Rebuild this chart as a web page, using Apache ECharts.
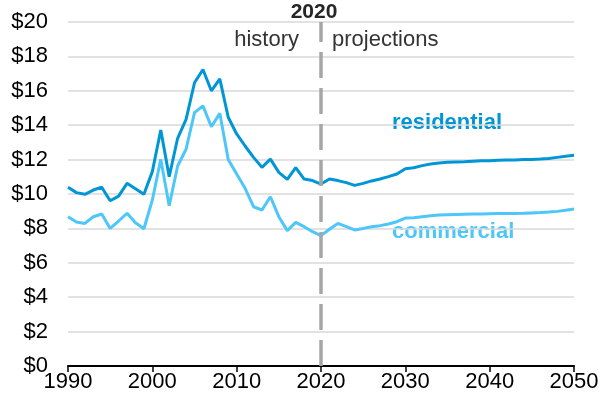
<!DOCTYPE html>
<html>
<head>
<meta charset="utf-8">
<script src="https://cdn.jsdelivr.net/npm/echarts@6/dist/echarts.min.js"></script>
<style>
  html, body { margin: 0; padding: 0; background: #fff; }
  #chart { width: 608px; height: 402px; }
</style>
</head>
<body>
<div id="chart"></div>
<script>
// years 1990..2050, one point per year
const years = Array.from({ length: 61 }, (_, i) => 1990 + i);

// residential price
const residential = [
  10.39, 10.08, 9.98, 10.23, 10.39, 9.61, 9.88, 10.62, 10.31, 9.98,
  11.30, 13.72, 11.01, 13.24, 14.34, 16.47, 17.24, 16.00, 16.69, 14.46,
  13.49, 12.79, 12.13, 11.55, 12.03, 11.26, 10.85, 11.53, 10.87, 10.78,
  10.58, 10.87, 10.78, 10.66, 10.50, 10.62, 10.76, 10.87, 11.01, 11.16,
  11.47, 11.53, 11.65, 11.74, 11.80, 11.84, 11.86, 11.88, 11.91, 11.93,
  11.94, 11.96, 11.97, 11.98, 12.00, 12.01, 12.03, 12.07, 12.13, 12.19,
  12.25
];

// commercial price
const commercial = [
  8.68, 8.37, 8.29, 8.68, 8.84, 8.00, 8.43, 8.88, 8.33, 7.98,
  9.65, 12.01, 9.32, 11.63, 12.60, 14.73, 15.12, 13.91, 14.69, 12.01,
  11.16, 10.33, 9.26, 9.07, 9.84, 8.68, 7.87, 8.35, 8.10, 7.81,
  7.58, 7.95, 8.29, 8.10, 7.91, 8.00, 8.10, 8.16, 8.26, 8.39,
  8.60, 8.62, 8.68, 8.74, 8.78, 8.80, 8.81, 8.82, 8.83, 8.84,
  8.85, 8.86, 8.86, 8.87, 8.88, 8.90, 8.92, 8.95, 8.99, 9.05,
  9.13
];

const splitYear = 2020;
const font = 'Liberation Sans, Arial, sans-serif';

const myChart = echarts.init(document.getElementById('chart'));

const option = {
  animation: false,
  grid: { left: 68, right: 34, top: 22, bottom: 36 },
  xAxis: {
    type: 'value',
    min: 1990,
    max: 2050,
    interval: 10,
    axisLine: { lineStyle: { color: '#000', width: 2 } },
    axisTick: { show: true, length: 6, lineStyle: { color: '#000', width: 1.5 } },
    axisLabel: { color: '#000', fontSize: 22, fontFamily: font, margin: 5, formatter: v => String(v) },
    splitLine: { show: false }
  },
  yAxis: {
    type: 'value',
    min: 0,
    max: 20,
    interval: 2,
    axisLine: { show: false },
    axisTick: { show: false },
    axisLabel: { color: '#000', fontSize: 22, fontFamily: font, margin: 20, formatter: '${value}' },
    splitLine: { lineStyle: { color: '#d9d9d9', width: 1.5 } }
  },
  series: [
    {
      name: 'residential',
      type: 'line',
      data: years.map((y, i) => [y, residential[i]]),
      symbol: 'none',
      lineStyle: { color: '#0096d6', width: 3 },
      z: 3,
      markLine: {
        silent: true,
        symbol: 'none',
        lineStyle: { color: '#a6a6a6', width: 3.5, type: [26, 10] },
        label: { show: false },
        data: [{ xAxis: splitYear }]
      }
    },
    {
      name: 'commercial',
      type: 'line',
      data: years.map((y, i) => [y, commercial[i]]),
      symbol: 'none',
      lineStyle: { color: '#4dc6f9', width: 3 },
      z: 2
    }
  ],
  graphic: [
    { type: 'text', style: { x: 314, y: 12, text: '2020', align: 'center', verticalAlign: 'middle', font: 'bold 21px ' + font, fill: '#262626' } },
    { type: 'text', style: { x: 299, y: 40, text: 'history', align: 'right', verticalAlign: 'middle', font: '22px ' + font, fill: '#333' } },
    { type: 'text', style: { x: 332, y: 40, text: 'projections', align: 'left', verticalAlign: 'middle', font: '22px ' + font, fill: '#333' } },
    { type: 'text', style: { x: 392, y: 123, text: 'residential', align: 'left', verticalAlign: 'middle', font: 'bold 22px ' + font, fill: '#0096d6' } },
    { type: 'text', style: { x: 392, y: 232, text: 'commercial', align: 'left', verticalAlign: 'middle', font: 'bold 22px ' + font, fill: '#4dc6f9' } }
  ]
};

option && myChart.setOption(option);
</script>
</body>
</html>
